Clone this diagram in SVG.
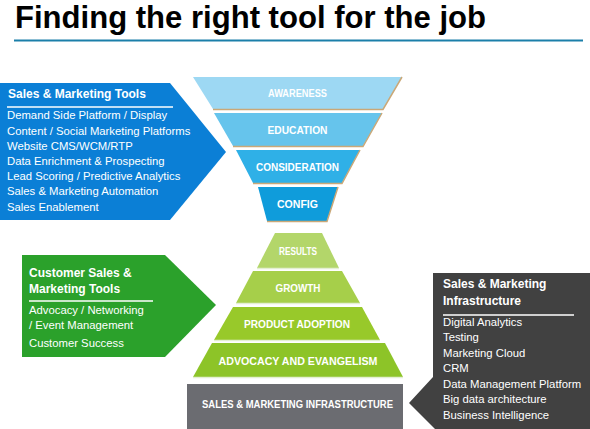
<svg xmlns="http://www.w3.org/2000/svg" width="590" height="429" viewBox="0 0 590 429">
<style>
.title{font-family:"Liberation Sans",Arial,sans-serif;font-weight:bold;font-size:30.5px;fill:#000}
.hd{font-family:"Liberation Sans",Arial,sans-serif;font-weight:bold;font-size:12px;fill:#fff}
.it{font-family:"Liberation Sans",Arial,sans-serif;font-size:11.3px;fill:#fff}
.band{font-family:"Liberation Sans",Arial,sans-serif;font-weight:bold;font-size:10px;fill:#fff;text-anchor:middle}
.edge{fill:none;stroke:#caa878;stroke-width:1.5}
.gedge{fill:none;stroke:#e4efd2;stroke-width:1.5}
.ul{stroke:#fff;stroke-width:1.6}
</style>
<rect width="590" height="429" fill="#fff"/>
<g id="title">
<text class="title" x="15" y="28" textLength="471" lengthAdjust="spacingAndGlyphs">Finding the right tool for the job</text>
<line x1="14" y1="40.5" x2="583" y2="40.5" stroke="#1b7fa9" stroke-width="2"/>
</g>
<g id="sales-marketing-tools">
<polygon points="0,83 170,83 226,152 170,220 0,220" fill="#0b7fd6"/>
<text class="hd" x="8" y="98">Sales &amp; Marketing Tools</text>
<line class="ul" x1="7" y1="107" x2="173" y2="107"/>
<text class="it" x="7" y="119">Demand Side Platform / Display</text>
<text class="it" x="7" y="134.5">Content / Social Marketing Platforms</text>
<text class="it" x="7" y="149.5">Website CMS/WCM/RTP</text>
<text class="it" x="7" y="165">Data Enrichment &amp; Prospecting</text>
<text class="it" x="7" y="180">Lead Scoring / Predictive Analytics</text>
<text class="it" x="7" y="195">Sales &amp; Marketing Automation</text>
<text class="it" x="7" y="210.5">Sales Enablement</text>
</g>
<g id="awareness">
<polygon points="193,77 402,77 383,109 213,109" fill="#9dd8f3"/>
<polyline class="edge" points="213,109.5 383,109.5 402,77"/>
<text class="band" x="297.5" y="97" fill="#eef8fd" textLength="59" lengthAdjust="spacingAndGlyphs">AWARENESS</text>
</g>
<g id="education">
<polygon points="214,113 382,113 363,146 233,146" fill="#66c4ec"/>
<polyline class="edge" points="233,146.5 363,146.5 382,113"/>
<text class="band" x="297.5" y="134" textLength="60" lengthAdjust="spacingAndGlyphs">EDUCATION</text>
</g>
<g id="consideration">
<polygon points="236,150 360,150 342,183 253,183" fill="#2fb0e7"/>
<polyline class="edge" points="253,183.5 342,183.5 360,150"/>
<text class="band" x="297.5" y="171" textLength="83" lengthAdjust="spacingAndGlyphs">CONSIDERATION</text>
</g>
<g id="config">
<polygon points="258,187 338,187 327,221 267,221" fill="#0f9cdb"/>
<polyline class="edge" points="267,221.5 327,221.5 338,187"/>
<text class="band" x="297.5" y="208" textLength="41" lengthAdjust="spacingAndGlyphs">CONFIG</text>
</g>
<g id="customer-sales-marketing-tools">
<polygon points="22,255 165,255 216,305 165,357 22,357" fill="#2ba12b"/>
<text class="hd" x="29" y="277">Customer Sales &amp;</text>
<text class="hd" x="29" y="293">Marketing Tools</text>
<line class="ul" x1="29" y1="301" x2="153" y2="301"/>
<text class="it" x="29" y="314">Advocacy / Networking</text>
<text class="it" x="29" y="329">/ Event Management</text>
<text class="it" x="29" y="347">Customer Success</text>
</g>
<g id="results">
<polygon points="275,233 322,233 339,268 257,268" fill="#b3d66a"/>
<polyline class="gedge" points="257,268.5 339,268.5"/>
<text class="band" x="298" y="255" fill="#eef4e0" textLength="38" lengthAdjust="spacingAndGlyphs">RESULTS</text>
</g>
<g id="growth">
<polygon points="253,271 342,271 360,303 236,303" fill="#a6cf4a"/>
<polyline class="gedge" points="236,303.5 360,303.5"/>
<text class="band" x="298" y="292" fill="#eef4e0" textLength="45" lengthAdjust="spacingAndGlyphs">GROWTH</text>
</g>
<g id="product-adoption">
<polygon points="233,307 362,307 380,340 214,340" fill="#98c92a"/>
<polyline class="gedge" points="214,340.5 380,340.5"/>
<text class="band" x="297" y="328" textLength="106" lengthAdjust="spacingAndGlyphs">PRODUCT ADOPTION</text>
</g>
<g id="advocacy-evangelism">
<polygon points="212,343 385,343 403,377 193,377" fill="#8dc428"/>
<polyline class="gedge" points="193,377.5 403,377.5"/>
<text class="band" x="298" y="365" textLength="159" lengthAdjust="spacingAndGlyphs">ADVOCACY AND EVANGELISM</text>
</g>
<g id="infrastructure-base">
<rect x="187" y="384" width="216" height="45" fill="#6b6c71"/>
<text class="band" x="297.5" y="408" textLength="191" lengthAdjust="spacingAndGlyphs">SALES &amp; MARKETING INFRASTRUCTURE</text>
</g>
<g id="sales-marketing-infrastructure">
<polygon points="433,273 590,273 590,429 435,429 409,403 433,377" fill="#414141"/>
<text class="hd" x="443" y="288">Sales &amp; Marketing</text>
<text class="hd" x="443" y="305">Infrastructure</text>
<line class="ul" x1="443" y1="315" x2="574" y2="315"/>
<text class="it" x="443" y="325.5">Digital Analytics</text>
<text class="it" x="443" y="341">Testing</text>
<text class="it" x="443" y="356.5">Marketing Cloud</text>
<text class="it" x="443" y="372">CRM</text>
<text class="it" x="443" y="387.5">Data Management Platform</text>
<text class="it" x="443" y="403">Big data architecture</text>
<text class="it" x="443" y="418.5">Business Intelligence</text>
</g>
</svg>
